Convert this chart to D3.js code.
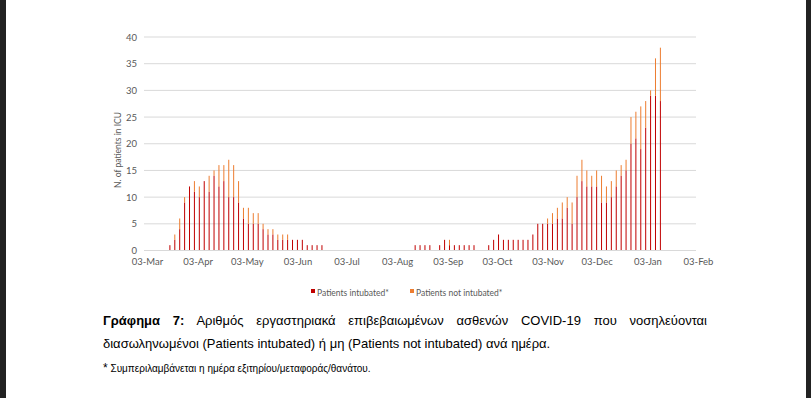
<!DOCTYPE html>
<html>
<head>
<meta charset="utf-8">
<script src="https://cdn.jsdelivr.net/npm/d3@7"></script>
<style>
  body { margin: 0; background: #fff; }
  #wrap { position: relative; width: 811px; height: 398px; overflow: hidden; background: #fff; }
  svg { position: absolute; left: 0; top: 0; }
  .cap { position: absolute; left: 103px; width: 604px; font-family: "Liberation Sans", Arial, sans-serif; font-size: 13px; color: #000; white-space: nowrap; }
  #line1 { top: 313px; text-align: justify; text-align-last: justify; white-space: normal; }
  #line2 { top: 336px; }
  #note { top: 361px; font-family: "Liberation Sans Narrow", "Liberation Sans", sans-serif; font-size: 10px; }
</style>
</head>
<body>
<div id="wrap">
  <svg id="chart"></svg>
  <div class="cap" id="line1"><b>Γράφημα 7:</b> Αριθμός εργαστηριακά επιβεβαιωμένων ασθενών COVID-19 που νοσηλεύονται</div>
  <div class="cap" id="line2">διασωληνωμένοι (Patients intubated) ή μη (Patients not intubated) ανά ημέρα.</div>
  <div class="cap" id="note"><span style="font-size:12px">*</span> Συμπεριλαμβάνεται η ημέρα εξιτηρίου/μεταφοράς/θανάτου.</div>
</div>
<script>
const width = 811;
const height = 398;

// dates of the bars (every third day as visible in the picture)
const dates = [
  "2020-03-17","2020-03-20","2020-03-23","2020-03-26","2020-03-29",
  "2020-04-01","2020-04-04","2020-04-07","2020-04-10","2020-04-13","2020-04-16","2020-04-19","2020-04-22","2020-04-25","2020-04-28",
  "2020-05-01","2020-05-04","2020-05-07","2020-05-10","2020-05-13","2020-05-16","2020-05-19","2020-05-22","2020-05-25","2020-05-28","2020-05-31",
  "2020-06-03","2020-06-06","2020-06-09","2020-06-12","2020-06-15","2020-06-18","2020-06-21","2020-06-24","2020-06-27","2020-06-30",
  "2020-07-03","2020-07-06","2020-07-09","2020-07-12","2020-07-15","2020-07-18","2020-07-21","2020-07-24","2020-07-27","2020-07-30",
  "2020-08-02","2020-08-05","2020-08-08","2020-08-11","2020-08-14","2020-08-17","2020-08-20","2020-08-23","2020-08-26","2020-08-29",
  "2020-09-01","2020-09-04","2020-09-07","2020-09-10","2020-09-13","2020-09-16","2020-09-19","2020-09-22","2020-09-25","2020-09-28",
  "2020-10-01","2020-10-04","2020-10-07","2020-10-10","2020-10-13","2020-10-16","2020-10-19","2020-10-22","2020-10-25","2020-10-28","2020-10-31",
  "2020-11-03","2020-11-06","2020-11-09","2020-11-12","2020-11-15","2020-11-18","2020-11-21","2020-11-24","2020-11-27","2020-11-30",
  "2020-12-03","2020-12-06","2020-12-09","2020-12-12","2020-12-15","2020-12-18","2020-12-21","2020-12-24","2020-12-27","2020-12-30",
  "2021-01-02","2021-01-05","2021-01-08","2021-01-11"
];

const intubated = [
  1,2,4,9,12, 11,10,13,11,14,12,13,10,10,9, 6,5,5,5,4,3,3,2,2,2,2,
  2,2,1,1,1,1,0,0,0,0, 0,0,0,0,0,0,0,0,0,0,
  0,0,0,0,1,1,1,1,0,1, 2,1,1,1,1,1,1,0,0,1,
  2,3,2,2,2,2,2,2,3,5,5, 5,5,6,6,8,5,10,13,12,12,
  12,9,9,10,12,14,15,20,21,19, 23,29,29,28
];

const notIntubated = [
  0,1,2,1,0, 2,2,0,3,1,4,3,7,6,4, 2,3,2,2,1,1,1,1,1,1,0,
  0,0,0,0,0,0,0,0,0,0, 0,0,0,0,0,0,0,0,0,0,
  0,0,0,0,0,0,0,0,0,0, 0,1,0,0,0,0,0,0,0,0,
  0,0,0,0,0,0,0,0,0,0,0, 1,2,2,3,2,4,4,4,3,2,
  3,5,3,3,3,2,2,5,5,8, 5,1,7,10
];

const monthTicks = ["2020-03-03","2020-04-03","2020-05-03","2020-06-03","2020-07-03","2020-08-03",
  "2020-09-03","2020-10-03","2020-11-03","2020-12-03","2021-01-03","2021-02-03"];
const yTicks = [0, 5, 10, 15, 20, 25, 30, 35, 40];

const seriesNames = ["Patients intubated*", "Patients not intubated*"];
const colors = ["#C00000", "#ED7D31"];

const parse = d3.timeParse("%Y-%m-%d");

const svg = d3.select("#chart")
    .attr("width", width)
    .attr("height", height);

// dark page borders of the screenshot
svg.append("rect").attr("x", 0).attr("y", 0).attr("width", 6).attr("height", height).attr("fill", "#222");
svg.append("rect").attr("x", 806).attr("y", 0).attr("width", 5).attr("height", height).attr("fill", "#222");

const x = d3.scaleTime()
    .domain([parse(monthTicks[0]), parse(monthTicks[monthTicks.length - 1])])
    .range([147, 698]);

const y = d3.scaleLinear()
    .domain([0, 40])
    .range([250.5, 37]);

// gridlines
svg.append("g")
    .selectAll("line")
    .data(yTicks.slice(1))
    .enter()
    .append("line")
    .attr("x1", 144)
    .attr("x2", 696)
    .attr("y1", d => y(d))
    .attr("y2", d => y(d))
    .attr("stroke", "#D9D9D9")
    .attr("stroke-width", 1);

// y axis labels
const yAxis = svg.append("g")
    .attr("transform", "translate(141,0)")
    .call(d3.axisLeft(y).tickValues(yTicks).tickSize(0).tickPadding(4));
yAxis.select(".domain").remove();
yAxis.selectAll("text")
    .attr("fill", "#595959")
    .attr("font-family", "Lato, 'Open Sans', sans-serif")
    .attr("font-size", 9.5);

svg.append("text")
    .attr("transform", "translate(121,150) rotate(-90)")
    .attr("text-anchor", "middle")
    .attr("fill", "#595959")
    .attr("font-family", "Lato, 'Open Sans', sans-serif")
    .attr("font-size", 8.5)
    .text("N. of patients in ICU");

// stacked bars
const rows = dates.map((d, i) => ({ date: parse(d), intubated: intubated[i], notIntubated: notIntubated[i] }));
const stack = d3.stack().keys(["intubated", "notIntubated"])(rows);
const barW = 1;

svg.append("g")
    .selectAll("g")
    .data(stack)
    .enter()
    .append("g")
    .attr("fill", (d, i) => colors[i])
    .selectAll("rect")
    .data(d => d)
    .enter()
    .append("rect")
    .attr("x", d => x(d.data.date) - barW / 2)
    .attr("width", barW)
    .attr("y", d => y(d[1]))
    .attr("height", d => y(d[0]) - y(d[1]));

// x axis
const xAxis = svg.append("g")
    .attr("transform", "translate(0,250.5)")
    .call(d3.axisBottom(x)
        .tickValues(monthTicks.map(parse))
        .tickFormat(d3.timeFormat("%d-%b"))
        .tickSize(0)
        .tickPadding(8));
xAxis.select(".domain")
    .attr("d", "M144,0H696")
    .attr("stroke", "#D9D9D9");
xAxis.selectAll("text")
    .attr("fill", "#595959")
    .attr("font-family", "Lato, 'Open Sans', sans-serif")
    .attr("font-size", 9.5);

// legend
const legend = svg.append("g").attr("transform", "translate(311,292)");
const legendX = [0, 99];
seriesNames.forEach((name, i) => {
    legend.append("rect")
        .attr("x", legendX[i])
        .attr("y", -3)
        .attr("width", 4)
        .attr("height", 4)
        .attr("fill", colors[i]);
    legend.append("text")
        .attr("x", legendX[i] + 6)
        .attr("y", 1)
        .attr("dy", "0.3em")
        .attr("fill", "#595959")
        .attr("font-family", "Lato, 'Open Sans', sans-serif")
        .attr("font-size", 8.5)
        .text(name);
});
</script>
</body>
</html>
